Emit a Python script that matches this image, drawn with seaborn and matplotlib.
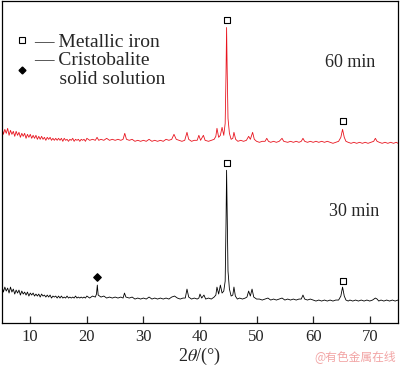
import numpy as np
import pandas as pd
import matplotlib
matplotlib.use('Agg')
import matplotlib.pyplot as plt
import seaborn as sns
from matplotlib.lines import Line2D

# low-angle region (noisy), shared 2theta grid
two_theta_low = [5.0, 5.25, 5.5, 5.75, 6.0, 6.25, 6.5, 6.75, 7.0, 7.25, 7.5, 7.75, 8.0, 8.25, 8.5, 8.75,
                 9.0, 9.25, 9.5, 9.75, 10.0, 10.25, 10.5, 10.75, 11.0, 11.25, 11.5, 11.75, 12.0, 12.25,
                 12.5, 12.75, 13.0, 13.25, 13.5, 13.75, 14.0, 14.25, 14.5, 14.75, 15.0, 15.25, 15.5,
                 15.75, 16.0, 16.25, 16.5, 16.75, 17.0, 17.25, 17.5, 17.75, 18.0, 18.25, 18.5, 18.75,
                 19.0, 19.25, 19.5, 19.75, 20.0]
intensity_30_low = [37, 31, 36, 32, 35, 30, 36, 31, 34, 29, 33, 30, 33, 28, 32, 29,
                    31, 28, 31, 27, 30, 28, 30, 27, 29, 27, 29, 26, 29, 27,
                    28, 26, 28, 26, 28, 25, 27, 26, 27, 25, 27, 25, 27,
                    25, 26, 25, 27, 25, 26, 25, 26, 25, 27, 25, 26, 25,
                    26, 25, 26, 25, 27]
intensity_60_low = [196, 189, 194, 190, 195, 188, 193, 189, 192, 187, 192, 188, 191, 186, 190, 187,
                    190, 185, 189, 186, 189, 185, 188, 185, 188, 184, 187, 184, 187, 184,
                    186, 183, 186, 184, 186, 183, 185, 183, 185, 183, 185, 183, 185,
                    182, 185, 183, 184, 182, 184, 183, 185, 182, 184, 183, 184, 182,
                    184, 183, 184, 182, 185]

# XRD pattern after 30 min, 20-75 degrees
two_theta_30 = [20.5, 21.0, 21.5, 21.7, 21.85, 22.0, 22.5, 23.0, 23.5, 24.0, 24.5, 25.0, 25.5,
                26.0, 26.4, 26.65, 26.9, 27.5, 28.0, 28.5, 29.0, 29.5, 30.0, 30.5, 31.0, 31.5, 32.0,
                32.5, 33.0, 33.5, 34.0, 34.5, 35.0, 35.5, 36.0, 36.5, 37.0, 37.4, 37.7, 38.0, 38.5,
                39.0, 39.5, 39.8, 40.0, 40.3, 40.7, 41.0, 41.5, 42.0, 42.5, 42.8, 43.0, 43.3, 43.6,
                43.9, 44.2, 44.45, 44.6, 44.7, 44.8, 44.95, 45.2, 45.5, 45.8, 46.0, 46.25, 46.6, 47.0,
                47.5, 48.0, 48.3, 48.6, 48.9, 49.2, 49.5, 50.0, 50.5, 51.0, 51.5, 52.0, 52.5, 53.0,
                53.5, 54.0, 54.5, 55.0, 55.5, 56.0, 56.5, 57.0, 57.5, 57.9, 58.2, 58.5, 59.0, 59.5,
                60.0, 60.5, 61.0, 61.5, 62.0, 62.5, 63.0, 63.5, 64.0, 64.5, 64.9, 65.2, 65.5, 65.8,
                66.2, 66.5, 67.0, 67.5, 68.0, 68.5, 69.0, 69.5, 70.0, 70.5, 71.0, 71.3, 71.6, 72.0,
                72.5, 73.0, 73.5, 74.0, 74.5, 75.0]
intensity_30 = [25, 27, 26, 29, 38, 28, 26, 27, 25, 26, 25, 26, 25,
                26, 25, 30, 26, 25, 26, 24, 25, 24, 25, 24, 26, 24, 25,
                24, 25, 24, 25, 24, 26, 27, 25, 24, 25, 25, 34, 26, 24,
                25, 24, 25, 29, 25, 28, 24, 25, 24, 26, 28, 36, 29, 38,
                30, 32, 42, 100, 153, 110, 52, 34, 27, 28, 36, 27, 24, 25,
                24, 25, 26, 32, 27, 34, 26, 24, 24, 23, 24, 25, 23, 24,
                23, 24, 25, 23, 24, 23, 24, 23, 24, 24, 28, 24, 23, 24,
                23, 22, 23, 22, 23, 22, 23, 22, 23, 23, 27, 36, 27, 23,
                22, 23, 22, 23, 22, 23, 22, 23, 22, 23, 25, 24, 22, 23,
                22, 23, 22, 23, 22, 23]

# XRD pattern after 60 min (offset upwards in the figure), 20-75 degrees
two_theta_60 = [20.5, 21.0, 21.5, 21.8, 22.1, 22.5, 23.0, 23.5, 24.0, 24.5, 25.0, 25.5, 26.0,
                26.4, 26.7, 27.0, 27.5, 28.0, 28.5, 29.0, 29.5, 30.0, 30.5, 31.0, 31.5, 32.0, 32.5,
                33.0, 33.5, 34.0, 34.5, 35.0, 35.4, 35.8, 36.3, 36.8, 37.3, 37.7, 38.0, 38.5, 39.0,
                39.5, 39.8, 40.1, 40.6, 40.9, 41.5, 42.0, 42.5, 42.8, 43.0, 43.3, 43.6, 43.9, 44.2,
                44.45, 44.6, 44.7, 44.8, 44.95, 45.2, 45.5, 45.8, 46.0, 46.3, 46.7, 47.2, 47.7, 48.2,
                48.6, 48.9, 49.3, 49.6, 50.0, 50.5, 51.0, 51.5, 51.8, 52.1, 52.5, 53.0, 53.5, 54.0,
                54.5, 54.8, 55.5, 56.0, 56.5, 57.0, 57.5, 57.9, 58.2, 58.5, 59.0, 59.5, 60.0, 60.5,
                61.0, 61.5, 62.0, 62.5, 63.0, 63.5, 64.0, 64.5, 64.9, 65.2, 65.5, 65.8, 66.2, 66.7,
                67.2, 67.7, 68.2, 68.7, 69.2, 69.7, 70.2, 70.7, 71.0, 71.3, 71.7, 72.2, 72.7, 73.2,
                73.7, 74.2, 74.7, 75.0]
intensity_60 = [183, 184, 183, 186, 183, 184, 183, 185, 183, 184, 183, 184, 183,
                184, 190, 184, 183, 184, 182, 183, 182, 183, 182, 184, 182, 183, 182,
                183, 182, 184, 183, 184, 189, 184, 183, 182, 183, 191, 184, 182, 183,
                183, 188, 183, 188, 183, 182, 183, 184, 187, 195, 186, 188, 196, 188,
                200, 250, 296, 255, 205, 190, 184, 185, 191, 184, 182, 183, 182, 183,
                187, 184, 191, 184, 182, 181, 182, 182, 185, 182, 181, 182, 181, 182,
                185, 182, 181, 182, 181, 182, 181, 182, 185, 182, 181, 182, 181, 182,
                181, 182, 181, 182, 181, 180, 181, 182, 186, 194, 186, 182, 181, 180,
                181, 180, 181, 180, 181, 180, 181, 182, 185, 182, 181, 180, 181, 180,
                181, 180, 181, 180]

# phase markers above the peaks
iron_theta = [44.7, 65.2, 44.7, 65.2]
iron_height = [160, 42, 304, 202]
cristobalite_theta = [21.85]
cristobalite_height = [46]

x_ticks = [10, 20, 30, 40, 50, 60, 70]

sns.set_theme(style='ticks')
plt.rcParams['font.family'] = ['Liberation Serif', 'DejaVu Serif']
plt.rcParams['mathtext.fontset'] = 'stix'

fig = plt.figure(figsize=(4, 3.7), dpi=100)
ax = fig.add_axes([0.005, 0.127, 0.99, 0.8715])

df30 = pd.DataFrame({'two_theta': two_theta_low + two_theta_30,
                     'intensity': intensity_30_low + intensity_30})
df60 = pd.DataFrame({'two_theta': two_theta_low + two_theta_60,
                     'intensity': intensity_60_low + intensity_60})
sns.lineplot(data=df30, x='two_theta', y='intensity', color='black', lw=0.6,
             sort=False, estimator=None, ax=ax)
sns.lineplot(data=df60, x='two_theta', y='intensity', color='#e8141e', lw=0.6,
             sort=False, estimator=None, ax=ax)

ax.scatter(iron_theta, iron_height, marker='s', s=20, facecolors='white',
           edgecolors='black', linewidths=0.8, zorder=5)
ax.scatter(cristobalite_theta, cristobalite_height, marker='D', s=14,
           color='black', zorder=5)

ax.text(66.5, 261, '60 min', fontsize=13, ha='center', va='center')
ax.text(67.2, 112, '30 min', fontsize=13, ha='center', va='center')

# legend for phase symbols
handles = [Line2D([], [], marker='s', ls='none', ms=4.5, mfc='white', mec='black', mew=0.8),
           Line2D([], [], marker='D', ls='none', ms=3.5, color='black')]
labels = ['\u2014 Metallic iron', '\u2014 Cristobalite\n     solid solution']
ax.legend(handles, labels, loc='upper left', bbox_to_anchor=(0.006, 0.935), frameon=False,
          fontsize=14, handlelength=0.6, handletextpad=0.35, labelspacing=0.05,
          borderaxespad=0.2)

ax.set_xlim(5, 75)
ax.set_ylim(0, 323)
ax.set_xticks(x_ticks)
ax.set_yticks([])
ax.set_xlabel(r'2$\theta$/(°)', fontsize=13, labelpad=1)
ax.set_ylabel('')
ax.tick_params(axis='x', direction='in', length=5, width=0.9, labelsize=12, pad=4)
for s in ax.spines.values():
    s.set_linewidth(0.9)
    s.set_color('black')
    s.set_visible(True)

fig.text(0.99, 0.02, '@有色金属在线', fontsize=8.5, color='#f2a5a5', ha='right', va='bottom',
         family=['Noto Sans CJK SC', 'DejaVu Sans'])

fig.savefig('out.png', dpi=100)
